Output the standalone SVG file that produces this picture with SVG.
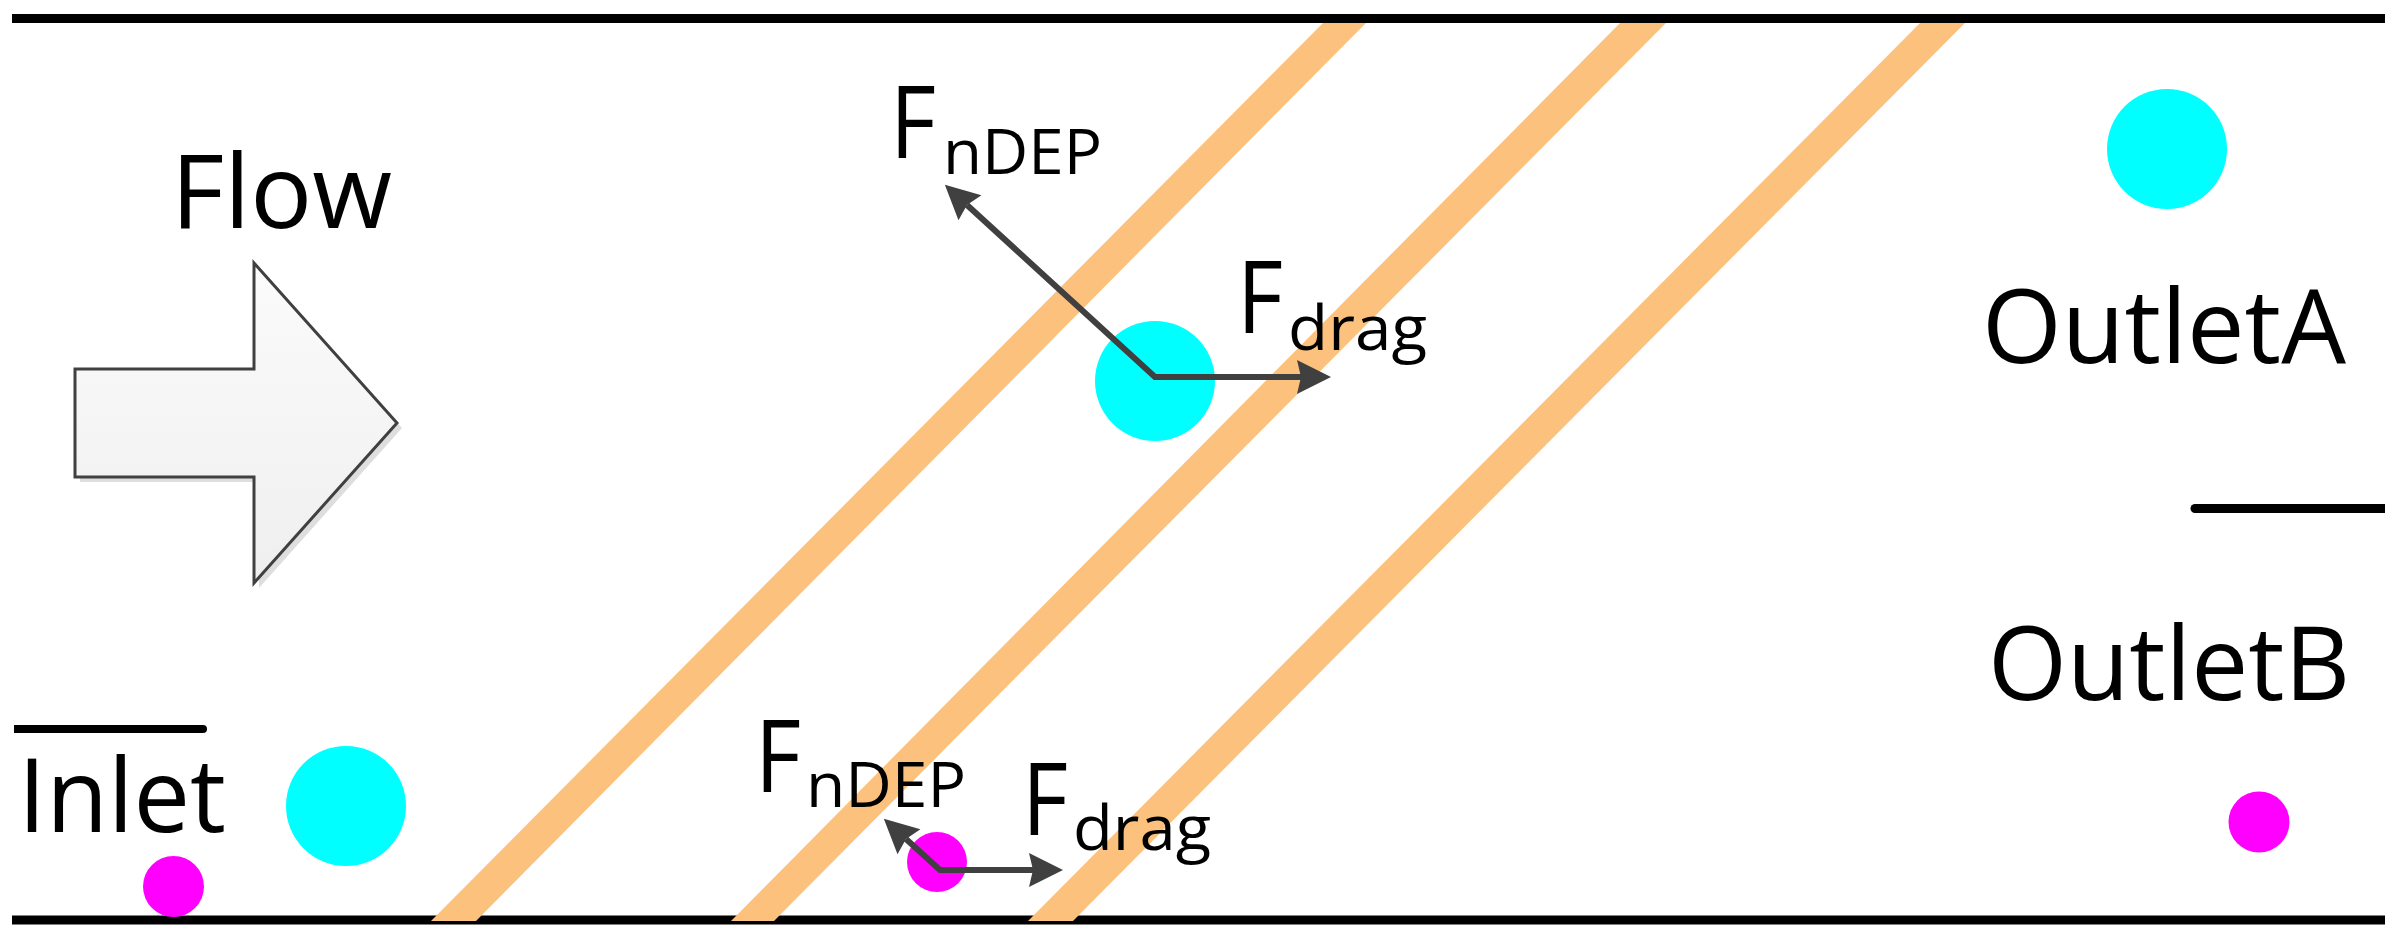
<svg xmlns="http://www.w3.org/2000/svg" width="2393" height="939" viewBox="0 0 2393 939">
  <style>
    .wall { stroke: #000000; stroke-width: 9; fill: none; }
    .bar { fill: #000000; }
    .stripe { fill: #FCC27D; }
    .big { font-family: "Open Sans", "Liberation Sans", sans-serif; font-size: 102px; fill: #000000; }
    .fmain { font-family: "Open Sans", "Liberation Sans", sans-serif; font-size: 100px; fill: #000000; }
    .fsub { font-family: "Open Sans", "Liberation Sans", sans-serif; font-size: 62px; fill: #000000; }
    .cyan { fill: #00FFFF; }
    .magenta { fill: #FF00FF; }
    .force { stroke: #404040; stroke-width: 6; fill: none; marker-start: url(#head-start); marker-end: url(#head); }
  </style>
  <defs>
    <marker id="head" markerUnits="userSpaceOnUse" markerWidth="40" markerHeight="40" viewBox="-5 -20 40 40" refX="0" refY="0" orient="auto" overflow="visible">
      <path d="M-4,-17 L30,0 L-4,17 L0,0 Z" fill="#404040"/>
    </marker>
    <marker id="head-start" markerUnits="userSpaceOnUse" markerWidth="40" markerHeight="40" viewBox="-5 -20 40 40" refX="0" refY="0" orient="auto-start-reverse" overflow="visible">
      <path d="M-4,-17 L30,0 L-4,17 L0,0 Z" fill="#404040"/>
    </marker>
    <linearGradient id="arrowFill" x1="0" y1="0" x2="0" y2="1">
      <stop offset="0" stop-color="#fbfbfb"/>
      <stop offset="1" stop-color="#efefef"/>
    </linearGradient>
  </defs>

  <rect x="0" y="0" width="2393" height="939" fill="#ffffff"/>

  <g id="channel">
    <line class="wall" x1="12" y1="18.5" x2="2385" y2="18.5"/>
    <line class="wall" x1="12" y1="920" x2="2385" y2="920"/>
    <path id="inlet-bar" class="bar" d="M14,725 H203 A4,4 0 0 1 203,733 H14 Z"/>
    <path id="outlet-bar" class="bar" d="M2385,504 H2195 A4.5,4.5 0 0 0 2195,513 H2385 Z"/>
  </g>

  <g id="electrodes">
    <polygon id="electrode-1" class="stripe" points="1323,23 1366,23 476,921 431,921"/>
    <polygon id="electrode-2" class="stripe" points="1620,23 1666,23 774,921 731,921"/>
    <polygon id="electrode-3" class="stripe" points="1920,23 1965,23 1073,921 1028,921"/>
  </g>

  <g id="flow-arrow">
    <polygon points="80,374 259,374 259,268 402,428 259,588 259,482 80,482" fill="#c8c8c8" opacity="0.6"/>
    <polygon points="75,369 254,369 254,263 397,423 254,583 254,477 75,477" fill="url(#arrowFill)" stroke="#404040" stroke-width="3" stroke-linejoin="miter"/>
  </g>

  <g id="particles">
    <circle id="cyan-inlet" class="cyan" cx="346" cy="806" r="60"/>
    <circle id="magenta-inlet" class="magenta" cx="173.5" cy="886.5" r="30.5"/>
    <circle id="cyan-middle" class="cyan" cx="1155" cy="381" r="60"/>
    <circle id="magenta-middle" class="magenta" cx="937" cy="862" r="30"/>
    <circle id="cyan-outletA" class="cyan" cx="2167" cy="149" r="60"/>
    <circle id="magenta-outletB" class="magenta" cx="2259" cy="822" r="30.5"/>
  </g>

  <g id="connectors">
    <path id="forces-large" class="force" d="M967,205 L1155,377 L1301,377"/>
    <path id="forces-small" class="force" d="M906,839 L940,870 L1033,870"/>
  </g>

  <g id="labels">
    <text id="label-flow" class="big" x="171" y="228" textLength="221" lengthAdjust="spacingAndGlyphs">Flow</text>
    <text id="label-inlet" class="big" x="18" y="832" textLength="208" lengthAdjust="spacingAndGlyphs">Inlet</text>
    <text id="label-outletA" class="big" x="1982" y="363" textLength="364" lengthAdjust="spacingAndGlyphs">OutletA</text>
    <text id="label-outletB" class="big" x="1988" y="700" textLength="362" lengthAdjust="spacingAndGlyphs">OutletB</text>

    <g id="label-fndep-large">
      <text class="fmain" x="890" y="158" textLength="46" lengthAdjust="spacingAndGlyphs">F</text>
      <text class="fsub" x="943" y="174" textLength="159" lengthAdjust="spacingAndGlyphs">nDEP</text>
    </g>
    <g id="label-fdrag-large">
      <text class="fmain" x="1237" y="333" textLength="46" lengthAdjust="spacingAndGlyphs">F</text>
      <text class="fsub" x="1288" y="350" textLength="139" lengthAdjust="spacingAndGlyphs">drag</text>
    </g>
    <g id="label-fndep-small">
      <text class="fmain" x="755" y="792" textLength="46" lengthAdjust="spacingAndGlyphs">F</text>
      <text class="fsub" x="806" y="807" textLength="160" lengthAdjust="spacingAndGlyphs">nDEP</text>
    </g>
    <g id="label-fdrag-small">
      <text class="fmain" x="1022" y="835" textLength="46" lengthAdjust="spacingAndGlyphs">F</text>
      <text class="fsub" x="1073" y="850" textLength="138" lengthAdjust="spacingAndGlyphs">drag</text>
    </g>
  </g>
</svg>
